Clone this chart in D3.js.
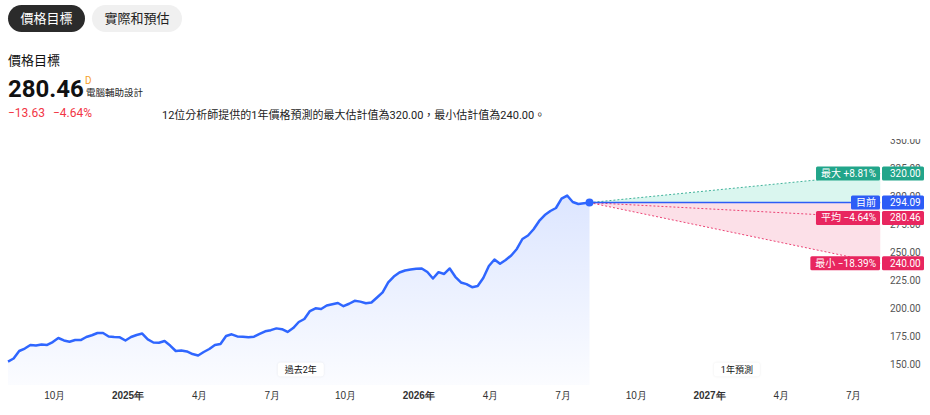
<!DOCTYPE html>
<html>
<head>
<meta charset="utf-8">
<script src="https://cdn.jsdelivr.net/npm/d3@7"></script>
<style>
  html, body { margin: 0; padding: 0; background: #fff; }
  svg { display: block; font-family: Roboto, "Noto Sans CJK TC", sans-serif; }
</style>
</head>
<body>
<svg id="chart" width="930" height="415"></svg>
<script>
// ---------------- DATA ----------------
const tabs = ["價格目標", "實際和預估"];
const title = "價格目標";
const headlineValue = "280.46";
const changeAbs = "−13.63";
const changePct = "−4.64%";
const description = "12位分析師提供的1年價格預測的最大估計值為320.00，最小估計值為240.00。";

const historyStart = "2024-08-04";
const historyEnd = "2026-08-04";
const forecastEnd = "2027-08-04";
// weekly closing prices over the past 2 years
const prices = [
  152.2,154.9,161.6,163.8,167.0,166.5,167.4,167.0,169.6,173.2,
  171.0,169.9,171.4,171.4,174.1,175.7,177.7,177.7,174.6,174.1,
  173.8,171.0,174.1,175.9,177.2,171.9,169.2,169.0,170.5,166.5,
  161.6,162.1,161.2,158.9,157.6,160.7,163.4,167.0,167.9,175.0,
  176.5,174.6,174.3,173.8,174.4,176.8,179.2,180.2,181.8,181.1,
  178.6,182.1,187.5,190.2,197.3,199.7,199.1,202.2,203.3,204.5,
  201.6,203.8,206.4,205.7,204.2,204.9,209.4,214.0,222.8,228.1,
  231.7,233.5,234.4,235.1,235.3,232.1,226.3,232.0,230.4,235.3,
  227.9,222.8,221.3,218.6,219.6,226.8,237.5,243.3,239.5,242.9,
  246.9,252.7,261.6,264.7,270.3,277.7,283.0,286.6,289.3,297.6,
  300.4,294.6,292.9,293.5,294.09
];
const currentPrice = 294.09;
const targetNames = ["最大", "平均", "最小"];
const targetValues = [320.00, 280.46, 240.00];
const targetPcts = ["+8.81%", "−4.64%", "−18.39%"];
const currentName = "目前";

const xTickDates = ["2024-10-01","2025-01-01","2025-04-01","2025-07-01","2025-10-01","2026-01-01",
                    "2026-04-01","2026-07-01","2026-10-01","2027-01-01","2027-04-01","2027-07-01"];
const xTickLabels = ["10月","2025年","4月","7月","10月","2026年","4月","7月","10月","2027年","4月","7月"];
const yTicks = [150, 175, 200, 225, 250, 275, 300, 325, 350];
const periodLabels = ["過去2年", "1年預測"];

// ---------------- DRAW ----------------
const parse = s => { const [y,m,d] = s.split("-").map(Number); return new Date(y, m-1, d); };
const svg = d3.select("#chart");

const COL_BLUE = "#2f66ff", COL_TEAL = "#22a58a", COL_PINK = "#e8265f", COL_CURR = "#2d5cf6";

// header
const tabW = [77, 90], tabX = [8, 92];
tabs.forEach((t, i) => {
  svg.append("rect").attr("x", tabX[i]).attr("y", 5).attr("width", tabW[i]).attr("height", 27)
    .attr("rx", 13.5).attr("fill", i === 0 ? "#2b2b2b" : "#f0f0f0");
  svg.append("text").attr("x", tabX[i] + tabW[i]/2).attr("y", 23).attr("text-anchor", "middle")
    .attr("font-size", 13).attr("fill", i === 0 ? "#fff" : "#222").text(t);
});
svg.append("text").attr("x", 8).attr("y", 65).attr("font-size", 13).attr("fill", "#111").text(title);
svg.append("text").attr("x", 8).attr("y", 96.5).attr("font-size", 24).attr("font-weight", 700)
  .attr("fill", "#111").text(headlineValue);
svg.append("text").attr("x", 85).attr("y", 84).attr("font-size", 10).attr("fill", "#f5a028").text("D");
svg.append("text").attr("x", 86).attr("y", 96).attr("font-size", 9.5).attr("fill", "#222").text("電腦輔助設計");
svg.append("text").attr("x", 8).attr("y", 117).attr("font-size", 12).attr("fill", "#f23645").text(changeAbs);
svg.append("text").attr("x", 53).attr("y", 117).attr("font-size", 12).attr("fill", "#f23645").text(changePct);
svg.append("text").attr("x", 162).attr("y", 119).attr("font-size", 11).attr("fill", "#222").text(description);

// scales
const x = d3.scaleTime().domain([parse("2025-01-01"), parse("2027-01-01")]).range([127.5, 709]);
const y = d3.scaleLinear().domain([150, 350]).range([364, 140]);
const plotBottom = 385, plotRight = 880, plotTop = 139;

const t0 = parse(historyStart).getTime(), t1 = parse(historyEnd).getTime();
const hist = prices.map((v, i) => ({ date: new Date(t0 + i * (t1 - t0) / (prices.length - 1)), v }));
const curDate = parse(historyEnd), endDate = parse(forecastEnd);

const defs = svg.append("defs");
const g1 = defs.append("linearGradient").attr("id", "histFill").attr("gradientUnits", "userSpaceOnUse")
  .attr("x1", 0).attr("y1", y(305)).attr("x2", 0).attr("y2", plotBottom);
g1.append("stop").attr("offset", 0).attr("stop-color", "#2f66ff").attr("stop-opacity", 0.17);
g1.append("stop").attr("offset", 1).attr("stop-color", "#2f66ff").attr("stop-opacity", 0.02);
defs.append("clipPath").attr("id", "axisClip").append("rect")
  .attr("x", 0).attr("y", plotTop).attr("width", 930).attr("height", 300);

// y axis labels (behind forecast tags)
const yAxis = d3.axisRight(y).tickValues(yTicks).tickFormat(d3.format(".2f")).tickSize(0).tickPadding(0);
const yg = svg.append("g").attr("transform", `translate(890,0)`).attr("clip-path", "url(#axisClip)").call(yAxis);
yg.select(".domain").remove();
yg.selectAll("text").attr("font-size", 10).attr("fill", "#555").attr("font-family", "Roboto, sans-serif");

// history area + line
svg.append("path").datum(hist).attr("fill", "url(#histFill)")
  .attr("d", d3.area().x(d => x(d.date)).y0(plotBottom).y1(d => y(d.v)));
svg.append("path").datum(hist).attr("fill", "none").attr("stroke", COL_BLUE).attr("stroke-width", 2.5)
  .attr("stroke-linejoin", "round").attr("d", d3.line().x(d => x(d.date)).y(d => y(d.v)));

// forecast cone
const cx = x(curDate), ex = x(endDate), cy = y(currentPrice);
const maxV = d3.max(targetValues), minV = d3.min(targetValues);
svg.append("path").attr("fill", "#d4f5ec").attr("fill-opacity", 0.85)
  .attr("d", d3.line()([[cx, cy], [ex, y(maxV)], [ex, cy]]));
svg.append("path").attr("fill", "#fcdde6").attr("fill-opacity", 0.9)
  .attr("d", d3.line()([[cx, cy], [ex, cy], [ex, y(minV)]]));
targetValues.forEach((v, i) => {
  svg.append("line").attr("x1", cx).attr("y1", cy).attr("x2", ex).attr("y2", y(v))
    .attr("stroke", i === 0 ? COL_TEAL : COL_PINK).attr("stroke-width", 1).attr("stroke-dasharray", "2,2")
    .attr("opacity", 0.85);
});
svg.append("line").attr("x1", cx).attr("y1", cy).attr("x2", ex).attr("y2", cy)
  .attr("stroke", COL_CURR).attr("stroke-width", 1.5);
svg.append("circle").attr("cx", cx).attr("cy", cy).attr("r", 4).attr("fill", COL_BLUE);

// x axis
const xAxis = d3.axisBottom(x).tickValues(xTickDates.map(parse))
  .tickFormat((d, i) => xTickLabels[i]).tickSize(0).tickPadding(0);
const xg = svg.append("g").attr("transform", `translate(0,392)`).call(xAxis);
xg.select(".domain").remove();
xg.selectAll("text").attr("font-size", 10).attr("fill", "#333")
  .attr("font-weight", (d, i) => xTickLabels[i].includes("年") ? 700 : 400);

// period labels
const periods = [[parse(historyStart), curDate], [curDate, endDate]];
periods.forEach((p, i) => {
  const mx = x(new Date((p[0].getTime() + p[1].getTime()) / 2)) + 2;
  const lg = svg.append("g").attr("transform", `translate(${mx},369.5)`);
  lg.append("rect").attr("x", -23).attr("y", -7).attr("width", 46).attr("height", 14).attr("rx", 3)
    .attr("fill", "#fff").style("filter", "drop-shadow(0 0 1px rgba(0,0,0,0.08))");
  lg.append("text").attr("text-anchor", "middle").attr("dy", "0.35em").attr("font-size", 9)
    .attr("fill", "#111").text(periodLabels[i]);
});

// tags on the right
function tag(v, name, color) {
  const yy = y(v);
  const g = svg.append("g");
  const t = g.append("text").attr("x", plotRight - 4).attr("y", yy).attr("dy", "0.35em")
    .attr("text-anchor", "end").attr("font-size", 10).attr("fill", "#fff").text(name);
  const w = t.node().getComputedTextLength() + 9;
  g.insert("rect", "text").attr("x", plotRight - w).attr("y", yy - 7).attr("width", w).attr("height", 14)
    .attr("rx", 1.5).attr("fill", color);
  g.append("rect").attr("x", plotRight + 2).attr("y", yy - 7).attr("width", 42).attr("height", 14)
    .attr("rx", 1.5).attr("fill", color);
  g.append("text").attr("x", 890).attr("y", yy).attr("dy", "0.35em").attr("font-size", 10)
    .attr("font-family", "Roboto, sans-serif").attr("fill", "#fff").text(d3.format(".2f")(v));
}
tag(targetValues[0], `${targetNames[0]} ${targetPcts[0]}`, COL_TEAL);
tag(currentPrice, currentName, COL_CURR);
tag(targetValues[1], `${targetNames[1]} ${targetPcts[1]}`, COL_PINK);
tag(targetValues[2], `${targetNames[2]} ${targetPcts[2]}`, COL_PINK);
</script>
</body>
</html>
